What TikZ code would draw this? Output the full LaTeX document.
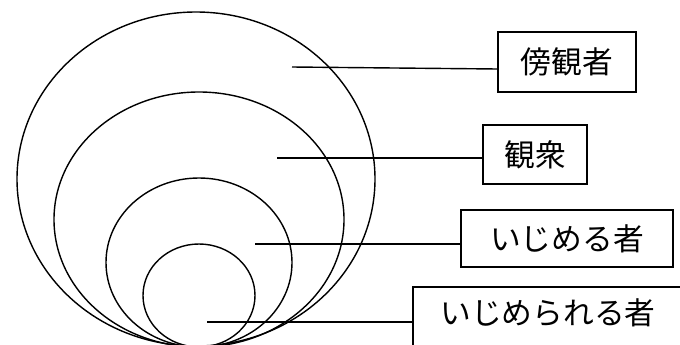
\documentclass[tikz,border=0pt]{standalone}
\usepackage{fontspec}
\newfontfamily\cjk{Noto Sans CJK JP}
\usepackage{tikz}

\begin{document}
\begin{tikzpicture}[x=0.02cm,y=-0.02cm,
  lbl/.style={draw,line width=0.8pt,inner sep=0pt,font=\cjk\fontsize{17.5}{20}\selectfont}]
\clip (0,0) rectangle (680,345);
\draw[line width=0.8pt] (196,179) ellipse [x radius=179,y radius=167];
\draw[line width=0.8pt] (199,219.5) ellipse [x radius=145,y radius=127.5];
\draw[line width=0.8pt] (199,262.5) ellipse [x radius=93,y radius=84.5];
\draw[line width=0.8pt] (199,295.5) ellipse [x radius=56,y radius=51.5];
\node[lbl,minimum width=138*0.02cm,minimum height=60*0.02cm] (bo) at (567,62) {傍観者};
\node[lbl,minimum width=104*0.02cm,minimum height=59*0.02cm] (ka) at (535,154.5) {観衆};
\node[lbl,minimum width=212*0.02cm,minimum height=57*0.02cm] (ij) at (567,238.5) {いじめる者};
\node[lbl,minimum width=270*0.02cm,minimum height=64*0.02cm,text height=13pt,text depth=7pt] (ir) at (548,319) {いじめられる者};
\coordinate (p1) at (292,67);
\coordinate (p2) at (277,158);
\coordinate (p3) at (255,244);
\coordinate (p4) at (207,322);
\draw[line width=0.8pt] (p1) -- ([yshift=-0.14cm]bo.west);
\draw[line width=0.8pt] (p2) -- (p2 -| ka.west);
\draw[line width=0.8pt] (p3) -- (p3 -| ij.west);
\draw[line width=0.8pt] (p4) -- (p4 -| ir.west);
\end{tikzpicture}
\end{document}
